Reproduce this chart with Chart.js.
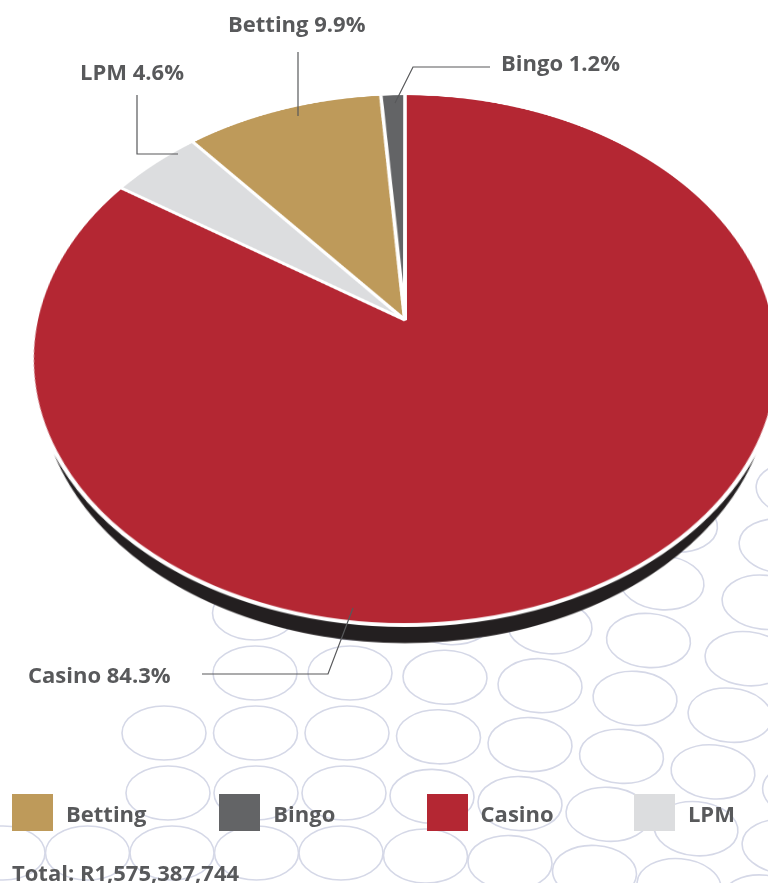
<!DOCTYPE html>
<html>
<head>
<meta charset="utf-8">
<title>Gross gaming revenue by sector</title>
<script src="https://cdn.jsdelivr.net/npm/chart.js@4.4.1/dist/chart.umd.min.js"></script>
<style>
  html, body { margin: 0; padding: 0; background: #fff; }
  body { position: relative; width: 768px; height: 883px; overflow: hidden;
         font-family: "Open Sans", sans-serif; font-weight: 700; color: #58595b; }
  #pattern, #leaders { position: absolute; left: 0; top: 0; }
  /* the pie is drawn flat, then tilted back in perspective */
  #pieBox { position: absolute; left: 34px; top: -51px; width: 742px; height: 762px;
            transform-origin: 371px 371px; transform: perspective(1759px) rotateX(45.3deg); }
  .lbl { position: absolute; font-size: 22px; line-height: 22px; white-space: nowrap; }
  .key { position: absolute; width: 41px; height: 37px; }
</style>
</head>
<body>
<canvas id="pattern" width="768" height="883"></canvas>
<div id="pieBox"><canvas id="pie" width="742" height="762"></canvas></div>
<svg id="leaders" width="768" height="883"></svg>
<div id="labels"></div>
<script>
// data
const categories = ['Betting', 'Bingo', 'Casino', 'LPM'];
const shares = [9.9, 1.2, 84.3, 4.6];
const pieOrder = ['Casino', 'LPM', 'Betting', 'Bingo'];
const total = 1575387744;

const colours = { Betting: '#be9a5a', Bingo: '#636466', Casino: '#b42733', LPM: '#dcdddf' };

// where the callouts sit: [left, baseline] and leader polyline
const labelSpots = { Betting: [228, 31], LPM: [80, 79], Bingo: [501, 70], Casino: [28, 682] };
const leaderPaths = {
  Betting: [[298, 52], [298, 116]],
  LPM: [[137, 95], [137, 154], [178, 154]],
  Bingo: [[490, 67], [413, 67], [395, 103]],
  Casino: [[202, 674], [328, 674], [353, 608]]
};

// background ring pattern (only the lower right part shows)
function drawPattern() {
  const ctx = document.getElementById('pattern').getContext('2d');
  ctx.strokeStyle = '#d5d8e7';
  ctx.lineWidth = 1.6;
  for (let j = -6; j <= 4; j++) {
    const step = 95 - 3.5 * j;
    for (let i = -6; i <= 6; i++) {
      const x = 350 - 3 * j + i * step;
      const dx = Math.max(0, x - 350);
      const y = 673 + 60 * j + 0.0225 * dx + 0.000233 * dx * dx;
      const shown = (x + 1.342 * y > 1145.5) || (x > 200 && y < 640);
      if (!shown) continue;
      ctx.beginPath();
      ctx.ellipse(x, y, 42, 27, 0.1 * dx / 400, 0, Math.PI * 2);
      ctx.stroke();
    }
  }
}
drawPattern();

// dark rim under the pie
const SHADOW_DROP = 30;
const SHADOW_INSET = 11.5;
const shadowPlugin = {
  id: 'pieShadow',
  beforeDatasetsDraw(chart) {
    const arc = chart.getDatasetMeta(0).data[0];
    const ctx = chart.ctx;
    ctx.save();
    ctx.fillStyle = '#231f20';
    ctx.beginPath();
    ctx.arc(arc.x, arc.y + SHADOW_DROP, arc.outerRadius - SHADOW_INSET, 0, Math.PI * 2);
    ctx.fill();
    ctx.restore();
  }
};

const pieValues = pieOrder.map(c => shares[categories.indexOf(c)]);

new Chart(document.getElementById('pie'), {
  type: 'pie',
  data: {
    labels: pieOrder,
    datasets: [{
      data: pieValues,
      backgroundColor: pieOrder.map(c => colours[c]),
      borderColor: '#ffffff',
      borderWidth: 4,
      hoverOffset: 0
    }]
  },
  options: {
    responsive: false,
    animation: false,
    devicePixelRatio: 2,
    events: [],
    layout: { padding: { bottom: 20 } },
    plugins: {
      legend: { display: false },
      tooltip: { enabled: false }
    }
  },
  plugins: [shadowPlugin]
});

// callout labels and leaders
const svgNS = 'http://www.w3.org/2000/svg';
const svg = document.getElementById('leaders');
const box = document.getElementById('labels');

function addText(txt, left, baseline) {
  const d = document.createElement('div');
  d.className = 'lbl';
  d.textContent = txt;
  d.style.left = left + 'px';
  d.style.top = (baseline - 19.5) + 'px';
  box.appendChild(d);
  return d;
}

categories.forEach((c, i) => {
  const [lx, ly] = labelSpots[c];
  addText(c + ' ' + shares[i] + '%', lx, ly);
  const pl = document.createElementNS(svgNS, 'polyline');
  pl.setAttribute('points', leaderPaths[c].map(p => p.join(',')).join(' '));
  pl.setAttribute('fill', 'none');
  pl.setAttribute('stroke', '#58595b');
  pl.setAttribute('stroke-width', '1.2');
  svg.appendChild(pl);
});

// legend
categories.forEach((c, i) => {
  const x0 = 12 + i * 207.3;
  const sq = document.createElement('div');
  sq.className = 'key';
  sq.style.left = x0 + 'px';
  sq.style.top = '794px';
  sq.style.background = colours[c];
  box.appendChild(sq);
  addText(c, x0 + 54, 821);
});

addText('Total: R' + total.toLocaleString('en-US'), 12, 880);
</script>
</body>
</html>
